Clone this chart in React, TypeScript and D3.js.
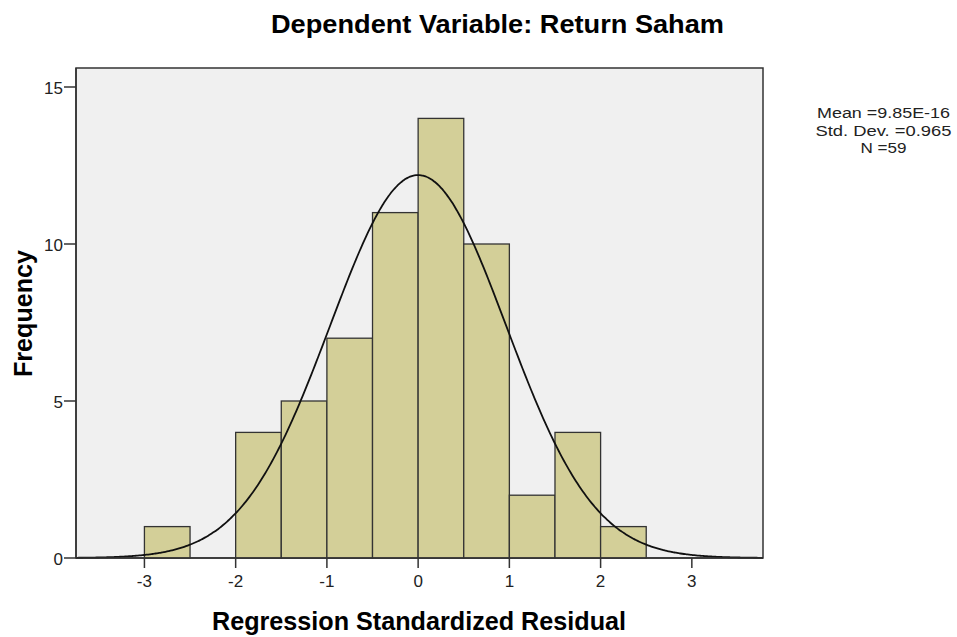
import React from "react";
import * as d3 from "d3";

const binStarts = [-3, -2.5, -2, -1.5, -1, -0.5, 0, 0.5, 1, 1.5, 2];
const binCounts = [1, 0, 4, 5, 7, 11, 14, 10, 2, 4, 1];
const binWidth = 0.5;
const xTicks = [-3, -2, -1, 0, 1, 2, 3];
const yTicks = [0, 5, 10, 15];
const mean = 9.85e-16;
const sd = 0.965;
const n = 59;
const legendLines = ["Mean =9.85E-16", "Std. Dev. =0.965", "N =59"];
const legendWidths = [133, 136, 46];

const W = 957, H = 637;
const left = 76, right = 763, top = 68, bottom = 558;
const font = "Arial, 'Liberation Sans', sans-serif";

export default function App() {
  const x = d3.scaleLinear().domain([-3.75, 3.78]).range([left, right]);
  const y = d3.scaleLinear().domain([0, 15]).range([bottom, 87]);
  const pdf = (v: number) =>
    (n * binWidth) / (sd * Math.sqrt(2 * Math.PI)) * Math.exp(-0.5 * ((v - mean) / sd) ** 2);
  const pts = d3.range(0, 401).map((i) => -3.75 + (i / 400) * (3.78 + 3.75));
  const line = d3.line<number>().x((v) => x(v)).y((v) => y(pdf(v))).curve(d3.curveBasis);
  return (
    <svg width={W} height={H} style={{ position: "absolute", left: 0, top: 0, background: "#fff" }}>
      <text x={497.5} y={33} textAnchor="middle" fontFamily={font} fontWeight="bold" fontSize={25}
        textLength={453} lengthAdjust="spacingAndGlyphs">
        Dependent Variable: Return Saham
      </text>
      <rect x={left} y={top} width={right - left} height={bottom - top} fill="#f0f0f0" stroke="#333" strokeWidth={1.5} />
      {binStarts.map((s, i) =>
        binCounts[i] > 0 ? (
          <rect key={i} x={x(s)} y={y(binCounts[i])} width={x(s + binWidth) - x(s)} height={bottom - y(binCounts[i])}
            fill="#d3cf98" stroke="#333" strokeWidth={1.3} />
        ) : null
      )}
      <path d={line(pts) || ""} fill="none" stroke="#111" strokeWidth={1.8} />
      <line x1={left} x2={left} y1={top} y2={bottom} stroke="#333" strokeWidth={1.5} />
      <line x1={left} x2={right} y1={bottom} y2={bottom} stroke="#333" strokeWidth={1.5} />
      {yTicks.map((t) => (
        <g key={t}>
          <line x1={left - 12} x2={left} y1={y(t)} y2={y(t)} stroke="#333" strokeWidth={1.5} />
          <text x={left - 13} y={y(t) + 6.5} textAnchor="end" fontFamily={font} fontSize={17} fill="#222">{t}</text>
        </g>
      ))}
      {xTicks.map((t) => (
        <g key={t}>
          <line x1={x(t)} x2={x(t)} y1={bottom} y2={bottom + 10} stroke="#333" strokeWidth={1.5} />
          <text x={x(t)} y={587} textAnchor="middle" fontFamily={font} fontSize={17} fill="#222">{t}</text>
        </g>
      ))}
      <text x={419} y={630} textAnchor="middle" fontFamily={font} fontWeight="bold" fontSize={25}
        textLength={414} lengthAdjust="spacingAndGlyphs">
        Regression Standardized Residual
      </text>
      <text transform={`translate(32,${313.5}) rotate(-90)`} textAnchor="middle" fontFamily={font} fontWeight="bold" fontSize={25}
        textLength={127} lengthAdjust="spacingAndGlyphs">
        Frequency
      </text>
      {legendLines.map((l, i) => (
        <text key={i} x={883.5} y={118 + i * 17.5} textAnchor="middle" fontFamily={font} fontSize={15.5} fill="#222"
          textLength={legendWidths[i]} lengthAdjust="spacingAndGlyphs">{l}</text>
      ))}
    </svg>
  );
}
